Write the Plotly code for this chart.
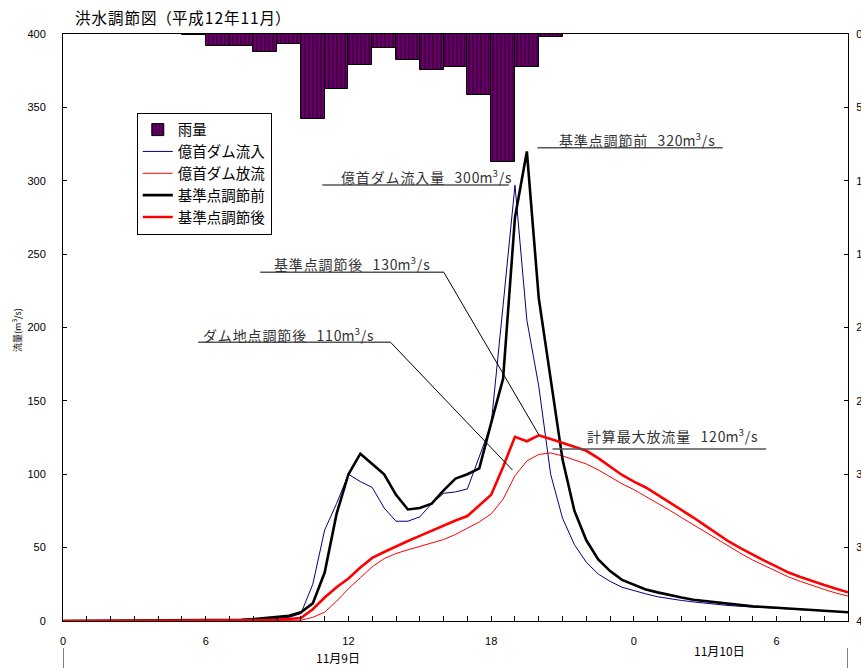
import plotly.graph_objects as go

# ---- data ----
hours = [0] + [7 + 0.5 * i for i in range(53)]  # 0, 7.0 ... 33.0

inflow_dam = [0, 0, 0, 0.5, 1, 1.5, 2.5, 5, 25, 62, 80, 100, 95, 91, 77, 68, 68, 71, 80, 87, 88, 90,
              112, 134, 215, 297, 205, 160, 100, 70, 52, 40, 32, 27, 23, 20.5, 18.5, 16.5, 15, 14, 13,
              12, 11, 10.5, 10, 9.5, 9, 8.5, 8, 7.5, 7.2, 7, 6.5, 6]
release_dam = [0, 0, 0, 0, 0, 0, 0, 0.5, 2.5, 6, 13.5, 22, 29.5, 37, 42.5, 46, 48.5, 51, 53, 55.5, 59,
               63, 67.5, 73, 83, 99, 109, 113.5, 114.5, 112.5, 110, 107, 103, 98, 93.5, 89.5, 85, 80.5,
               75.5, 70.5, 65.5, 60.5, 55.5, 50.5, 46, 41.5, 37.5, 33.5, 30, 27, 24, 21.5, 19, 17]
base_before = [0, 0.3, 0.8, 1.3, 2, 2.5, 3.5, 6, 12, 33, 73, 100, 114, 107, 100, 86, 76, 77, 80, 89, 97,
               100, 104, 135, 165, 275, 320, 220, 165, 110, 75, 55, 42, 34, 28, 24.5, 21.5, 19.5, 17.5,
               16, 14.5, 13.5, 12.5, 11.5, 10.5, 10, 9.5, 9, 8.5, 8, 7.5, 7, 6.5, 6]
base_after = [0, 0, 0, 0.3, 0.5, 0.8, 1.2, 2, 8, 16, 23, 29, 36.5, 43, 47, 51, 54.5, 58, 61.5, 65.5, 68.5,
              71.5, 79, 86, 105, 125.5, 122.5, 126.5, 124, 121.5, 119, 116, 111, 105, 99.5, 95, 91, 86,
              81, 76, 70.5, 65, 59.5, 54, 49.5, 45, 41, 37, 33, 30, 27, 24.5, 22, 19.5]

rain_start_hours = [5, 6, 7, 8, 9, 10, 11, 12, 13, 14, 15, 16, 17, 18, 19, 20]
rain_values = [0.1, 0.81, 0.81, 1.24, 0.68, 5.76, 3.74, 2.1, 0.97, 1.77, 2.48, 2.25, 4.17, 8.74, 2.25, 0.22]

tick_hours = list(range(0, 34))
tick_labels = {0: "0", 6: "6", 12: "12", 18: "18", 24: "0", 30: "6"}

FONT = "Noto Sans CJK JP"
HS = "\u200a"  # hair space used as letter spacing


def spaced(s):
    return HS.join(list(s))


fig = go.Figure()

fig.add_trace(go.Bar(
    x=[h + 0.5 for h in rain_start_hours], y=rain_values, width=1, yaxis="y2", name="雨量",
    marker=dict(color="#660066", line=dict(color="black", width=1),
                pattern=dict(shape="|", fgcolor="black", bgcolor="#660066", size=4, solidity=0.3,
                             fillmode="overlay")),
))
fig.add_trace(go.Scatter(x=hours, y=inflow_dam, mode="lines", name="億首ダム流入",
                         line=dict(color="#000080", width=1)))
fig.add_trace(go.Scatter(x=hours, y=release_dam, mode="lines", name="億首ダム放流",
                         line=dict(color="#ff0000", width=1)))
fig.add_trace(go.Scatter(x=hours, y=base_before, mode="lines", name="基準点調節前",
                         line=dict(color="black", width=2.6)))
fig.add_trace(go.Scatter(x=hours, y=base_after, mode="lines", name="基準点調節後",
                         line=dict(color="#ff0000", width=2.6)))

fig.update_layout(
    width=861, height=668,
    margin=dict(l=63, r=13, t=34, b=47, autoexpand=False),
    paper_bgcolor="white", plot_bgcolor="white",
    font=dict(family=FONT, color="black", size=11),
    bargap=0,
    showlegend=True,
    legend=dict(x=0.094, y=0.866, xanchor="left", yanchor="top",
                bgcolor="white", bordercolor="black", borderwidth=1,
                font=dict(size=14.5, family=FONT), itemwidth=30, tracegroupgap=0),
    xaxis=dict(range=[0, 33], tickvals=tick_hours, automargin=False,
               ticktext=[tick_labels.get(h, "") for h in tick_hours],
               ticks="inside", ticklen=5, tickcolor="black",
               showline=True, linecolor="black", linewidth=1, mirror=True,
               showgrid=False, zeroline=False, ticklabelstandoff=10,
               tickfont=dict(family="Liberation Sans", size=11, color="black")),
    yaxis=dict(range=[0, 400], dtick=50, ticks="inside", ticklen=4, tickcolor="black", automargin=False,
               showline=True, linecolor="black", linewidth=1, showgrid=False, zeroline=False,
               ticklabelstandoff=14,
               tickfont=dict(family="Liberation Sans", size=11, color="black")),
    yaxis2=dict(range=[40, 0], dtick=5, overlaying="y", side="right", automargin=False,
                ticks="inside", ticklen=4, tickcolor="black",
                showline=True, linecolor="black", linewidth=1, showgrid=False, zeroline=False,
                ticklabelstandoff=5,
                tickfont=dict(family="Liberation Sans", size=11, color="black")),
)

ann_font = dict(family=FONT, size=14, color="#333")
sp = "\u2002\u00a0"
unit = "m<sup>3</sup>" + HS + "/" + HS + "s"
labels = [
    ("億首ダム流入量", "300", 15.26, 302.6, 10.9, 18.74, 297.1, None),
    ("基準点調節前", "320", 24.13, 328.2, 19.95, 27.73, 322.5, None),
    ("基準点調節後", "130", 12.14, 243.7, 8.29, 16.01, 237.6, (20.01, 126.7)),
    ("ダム地点調節後", "110", 9.49, 195.4, 5.68, 13.77, 189.9, (18.89, 102.9)),
    ("計算最大放流量", "120", 25.63, 126.7, 20.58, 29.56, 117.2, None),
]
for name, val, tx, ty, ux0, ux1, uy, leader in labels:
    text = spaced(name) + sp + spaced(val) + unit
    fig.add_annotation(x=tx, y=ty, xref="x", yref="y", text=text, showarrow=False,
                       xanchor="center", yanchor="middle", font=ann_font)
    fig.add_shape(type="line", xref="x", yref="y", x0=ux0, x1=ux1, y0=uy, y1=uy,
                  line=dict(color="#555", width=1.5))
    if leader:
        fig.add_shape(type="line", xref="x", yref="y", x0=ux1, y0=uy, x1=leader[0], y1=leader[1],
                      line=dict(color="black", width=1))

# title
fig.add_annotation(x=10 / 785, y=(621 - 17) / 587, xref="paper", yref="paper",
                   text=spaced("洪水調節図") + "（" + spaced("平成12年11月") + "）",
                   showarrow=False, xanchor="left", yanchor="middle",
                   font=dict(family=FONT, size=15.5, color="black"))
# y-axis title
fig.add_annotation(x=(17 - 63) / 785, y=(621 - 330) / 587, xref="paper", yref="paper",
                   text="流量(m<sup>3</sup>/s)", showarrow=False, textangle=-90,
                   xanchor="center", yanchor="middle", font=dict(family=FONT, size=9, color="black"))
# day labels
fig.add_annotation(x=11.54, y=(621 - 657) / 587, xref="x", yref="paper", text="11月9日",
                   showarrow=False, xanchor="center", yanchor="middle",
                   font=dict(family=FONT, size=12, color="black"))
fig.add_annotation(x=27.58, y=(621 - 650) / 587, xref="x", yref="paper", text="11月10日",
                   showarrow=False, xanchor="center", yanchor="middle",
                   font=dict(family=FONT, size=12, color="black"))
for xd in (0, 33):
    fig.add_shape(type="line", xref="x", yref="paper", x0=xd, x1=xd,
                  y0=(621 - 648) / 587, y1=(621 - 668) / 587, line=dict(color="black", width=1))

fig.write_html("out.html", config={"displayModeBar": False},
               post_script="document.body.style.margin='0';document.body.style.overflow='hidden';")
